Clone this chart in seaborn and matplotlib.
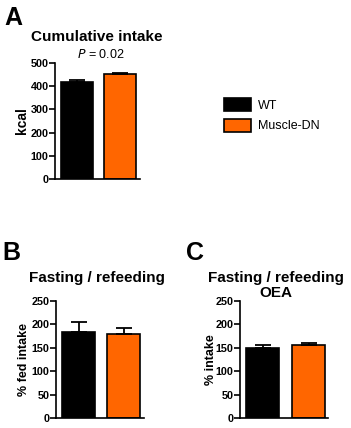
import matplotlib
matplotlib.use("Agg")
import matplotlib.pyplot as plt
import seaborn as sns
import pandas as pd
from matplotlib.patches import Patch

# Data (mean + SEM)
groups = ["WT", "Muscle-DN"]
colors = ["#000000", "#FF6600"]

cum_mean = [418, 452]
cum_sem = [7, 7]

fast_mean = [184, 179]
fast_sem = [21, 13]

oea_mean = [150, 155]
oea_sem = [6, 6]

sns.set_style("ticks")
plt.rcParams["font.family"] = ["Liberation Sans", "DejaVu Sans"]
plt.rcParams["text.color"] = "black"
plt.rcParams["axes.labelcolor"] = "black"
plt.rcParams["ytick.color"] = "black"
plt.rcParams["axes.edgecolor"] = "black"

W, H = 351, 428
fig = plt.figure(figsize=(W / 100, H / 100), dpi=100)


def make_ax(x0, x1, y0, y1):
    return fig.add_axes([x0 / W, 1 - y1 / H, (x1 - x0) / W, (y1 - y0) / H])


def bar_panel(ax, means, sems, ymax, step, ylabel, xlim, width, ylsize=8.5, lpad=1):
    df = pd.DataFrame({"group": groups, "value": means})
    sns.barplot(data=df, x="group", y="value", hue="group", palette=colors,
                saturation=1, width=width, edgecolor="black", linewidth=1.2,
                legend=False, ax=ax)
    ax.errorbar(range(len(means)), means, yerr=[[0] * len(sems), sems], fmt="none",
                ecolor="black", elinewidth=1.3, capsize=6, capthick=1.3)
    ax.set_ylim(0, ymax)
    ax.set_yticks(range(0, ymax + 1, step))
    ax.set_xlim(*xlim)
    ax.set_xticks([])
    ax.set_xlabel("")
    ax.set_ylabel(ylabel, fontsize=ylsize, fontweight="bold", labelpad=lpad)
    for lab in ax.get_yticklabels():
        lab.set_fontweight("bold")
    ax.tick_params(axis="y", labelsize=7.8, length=4, width=1.2, pad=0.5, direction="out")
    sns.despine(ax=ax)
    ax.spines["left"].set_linewidth(1.2)
    ax.spines["bottom"].set_linewidth(1.2)
    ax.spines["left"].set_bounds(0, ymax)


# Panel A
axA = make_ax(55, 140, 63, 179)
bar_panel(axA, cum_mean, cum_sem, 500, 100, "kcal", (-0.5, 1.45), 0.73, ylsize=10, lpad=1)
fig.text(4 / W, 1 - 18 / H, "A", fontsize=18, fontweight="bold", va="center")
fig.text(97 / W, 1 - 37 / H, "Cumulative intake", fontsize=11, fontweight="bold",
         ha="center", va="center")
fig.text(101 / W, 1 - 55 / H, "$\\it{P}$ = 0.02", fontsize=9, ha="center", va="center")

# Legend
handles = [Patch(facecolor=c, edgecolor="black", linewidth=1.2) for c in colors]
fig.legend(handles, groups, loc="upper left", bbox_to_anchor=(213 / W, 1 - 87 / H),
           frameon=False, fontsize=9, handlelength=2.15, handleheight=1.2,
           handletextpad=0.55, labelspacing=0.55)

# Panel B
axB = make_ax(56, 144, 301, 418)
bar_panel(axB, fast_mean, fast_sem, 250, 50, "% fed intake", (-0.5, 1.45), 0.74,
          ylsize=9, lpad=1)
fig.text(2 / W, 1 - 253 / H, "B", fontsize=18, fontweight="bold", va="center")
fig.text(97 / W, 1 - 278 / H, "Fasting / refeeding", fontsize=11, fontweight="bold",
         ha="center", va="center")

# Panel C
axC = make_ax(240, 328, 301, 418)
bar_panel(axC, oea_mean, oea_sem, 250, 50, "% intake", (-0.5, 1.42), 0.72,
          ylsize=9, lpad=-1)
fig.text(186 / W, 1 - 253 / H, "C", fontsize=18, fontweight="bold", va="center")
fig.text(276 / W, 1 - 278 / H, "Fasting / refeeding", fontsize=11, fontweight="bold",
         ha="center", va="center")
fig.text(276 / W, 1 - 293 / H, "OEA", fontsize=11, fontweight="bold",
         ha="center", va="center")

fig.savefig("out.png", dpi=100)
